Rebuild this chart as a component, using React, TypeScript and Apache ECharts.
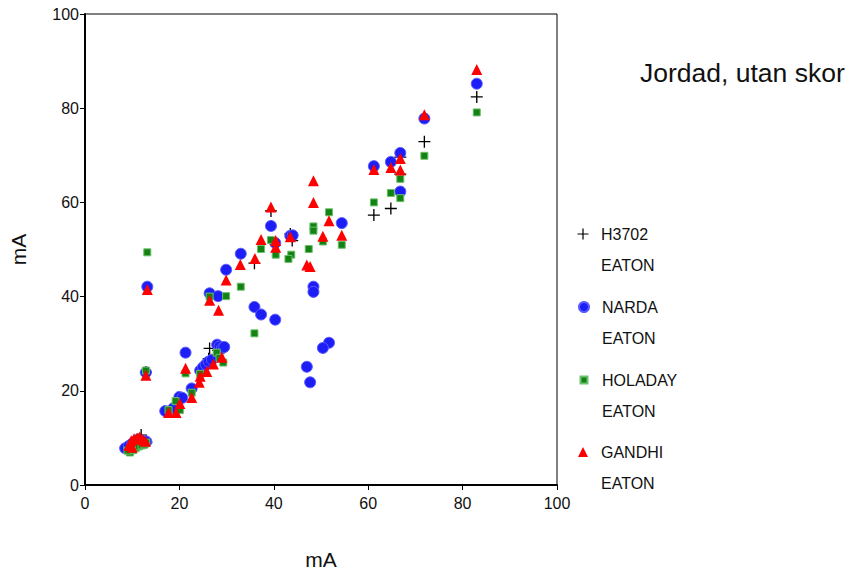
import React, { useEffect, useRef } from "react";
import * as echarts from "echarts";

const seriesNames = ["H3702\nEATON", "NARDA\nEATON", "HOLADAY\nEATON", "GANDHI\nEATON"];
const chartTitle = "Jordad, utan skor";
const axisName = "mA";

const h3702: [number, number][] = [
  [83, 82.4], [71.9, 72.9], [66.8, 69.6], [66.8, 66.0], [64.8, 58.7], [61.2, 57.3],
  [39.4, 58.2], [43.5, 53.3], [43.9, 51.9], [35.9, 47.1], [26.4, 29.0], [26.2, 26.8],
  [28.2, 28.6], [12.9, 24.0],
  [9.0, 8.0], [9.8, 8.6], [10.5, 9.2], [11.2, 9.7], [11.9, 10.6], [12.5, 9.4], [13.0, 9.0],
];

const narda: [number, number][] = [
  [83, 85.2], [71.9, 77.8], [66.8, 70.5], [66.8, 62.3], [64.8, 68.6], [61.2, 67.7],
  [39.4, 55.0], [54.4, 55.6], [40.3, 51.4], [43.5, 52.9], [44.0, 53.0], [33.0, 49.1],
  [48.4, 42.1], [48.4, 41.0], [35.9, 37.8], [37.3, 36.2], [40.3, 35.1], [51.7, 30.2],
  [50.4, 29.1], [47.0, 25.1], [47.7, 21.8], [13.2, 42.1], [29.9, 45.7], [26.4, 40.7],
  [28.2, 40.1], [21.3, 28.1], [28.0, 29.8], [28.5, 29.4], [29.0, 29.0], [29.5, 29.3],
  [12.9, 23.9], [24.4, 24.3], [25.0, 25.0], [25.6, 25.6], [26.2, 26.2], [26.9, 26.6],
  [22.6, 20.5], [20.0, 18.7], [20.6, 18.5], [18.7, 16.3], [17.0, 15.7],
  [8.5, 7.8], [9.3, 8.3], [10.0, 8.8], [10.6, 9.2], [11.2, 9.5], [11.8, 9.0], [12.4, 9.4],
  [13.0, 9.2], [9.8, 7.6],
];

const holaday: [number, number][] = [
  [83, 79.1], [71.9, 69.9], [66.8, 65.0], [66.8, 60.9], [64.8, 62.0], [61.2, 60.0],
  [51.7, 57.9], [48.4, 54.9], [48.4, 54.0], [39.4, 52.0], [37.3, 50.1], [40.4, 48.9],
  [43.7, 48.9], [43.1, 48.0], [50.4, 51.7], [54.4, 51.0], [47.4, 50.1], [33.0, 42.1],
  [35.9, 32.2], [13.2, 49.4], [29.9, 40.1], [26.4, 40.0], [27.9, 28.1], [21.3, 23.7],
  [12.9, 24.3], [29.3, 26.0], [28.5, 27.0], [24.4, 23.6], [22.6, 19.6], [19.2, 17.8],
  [17.7, 15.9], [20.1, 15.9],
  [9.5, 6.9], [10.2, 7.4], [10.8, 7.9], [11.4, 8.2], [12.0, 8.4], [12.6, 8.6], [13.0, 9.0],
  [9.0, 7.3],
];

const gandhi: [number, number][] = [
  [83, 88.2], [71.9, 78.6], [66.8, 69.3], [66.8, 66.9], [64.8, 67.4], [61.2, 67.0],
  [48.4, 64.6], [48.4, 60.0], [39.4, 59.0], [51.7, 56.1], [37.3, 52.1], [40.4, 51.9],
  [40.4, 50.5], [43.5, 52.7], [50.4, 52.8], [54.4, 53.0], [47.0, 46.7], [47.7, 46.4],
  [32.9, 46.8], [36.0, 48.1], [13.2, 41.5], [29.9, 43.5], [26.4, 39.2], [28.3, 37.1],
  [21.3, 24.8], [12.9, 23.3], [27.2, 25.7], [29.0, 27.1], [25.8, 24.1], [24.4, 23.1],
  [24.2, 21.8], [22.6, 18.6], [20.1, 17.3], [17.7, 15.4], [19.3, 15.4],
  [9.3, 8.4], [9.8, 9.4], [10.4, 9.8], [11.0, 9.9], [11.6, 10.2], [12.2, 9.6], [12.8, 9.3],
  [10.0, 8.0],
];

const legendFirstLineY = [234, 307, 380, 452];

const FONT = "'Liberation Sans', Arial, sans-serif";
const PLUS = "path://M6,0H7.5V6H13.5V7.5H7.5V13.5H6V7.5H0V6H6Z";

export default function App() {
  const ref = useRef<HTMLDivElement>(null);
  useEffect(() => {
    if (!ref.current) return;
    const chart = echarts.init(ref.current, undefined, { renderer: "svg" });
    const lineH = 31;
    const iconCx = 583;
    const textX = 601;
    const legendIcons = [PLUS, "circle", "rect", "triangle"];
    const legendSizes = [11, 10, 7, 10];
    const legends = seriesNames.map((n, i) => {
      const w = legendSizes[i];
      return {
        data: [{ name: n, icon: legendIcons[i] }],
        orient: "vertical",
        left: iconCx - w / 2,
        top: legendFirstLineY[i] - 1.5 * lineH,
        padding: 0,
        itemWidth: w,
        itemHeight: w,
        selectedMode: false,
        formatter: (name: string) => "\n" + name,
        textStyle: {
          fontFamily: FONT,
          fontSize: 16,
          color: "#111",
          lineHeight: lineH,
          padding: [0, 0, 0, textX - (iconCx + w / 2 + 5)],
        },
      };
    });
    const axisCommon = {
      type: "value",
      min: 0,
      max: 100,
      interval: 20,
      name: axisName,
      nameLocation: "middle",
      nameTextStyle: { fontFamily: FONT, fontSize: 21, color: "#111" },
      axisLine: { show: true, onZero: false, lineStyle: { color: "#000", width: 2 } },
      axisTick: { show: true, inside: false, length: 5, lineStyle: { color: "#000", width: 1 } },
      splitLine: { show: false },
    };
    chart.setOption({
      animation: false,
      backgroundColor: "#fff",
      title: {
        text: chartTitle,
        left: 640,
        top: 59,
        padding: 0,
        textStyle: { fontFamily: FONT, fontSize: 26.5, fontWeight: "normal", color: "#111" },
      },
      legend: legends,
      grid: {
        left: 85,
        top: 14,
        right: 290,
        bottom: 84,
        show: true,
        borderColor: "#000",
        borderWidth: 1,
        backgroundColor: "transparent",
      },
      xAxis: {
        ...axisCommon,
        nameGap: 64,
        axisLabel: { fontFamily: FONT, fontSize: 16, color: "#111", margin: 10 },
      },
      yAxis: {
        ...axisCommon,
        nameGap: 56,
        axisLabel: { fontFamily: FONT, fontSize: 16, color: "#111", margin: 6 },
      },
      series: [
        {
          name: seriesNames[0],
          type: "scatter",
          data: h3702,
          symbol: PLUS,
          symbolSize: 12,
          itemStyle: { color: "#000", opacity: 1 },
        },
        {
          name: seriesNames[1],
          type: "scatter",
          data: narda,
          symbol: "circle",
          symbolSize: 11,
          itemStyle: { color: "#1d1df5", borderColor: "#5a5aff", borderWidth: 1, opacity: 1 },
        },
        {
          name: seriesNames[2],
          type: "scatter",
          data: holaday,
          symbol: "rect",
          symbolSize: 7,
          itemStyle: { color: "#138213", borderColor: "#6cc06c", borderWidth: 1, opacity: 1 },
        },
        {
          name: seriesNames[3],
          type: "scatter",
          data: gandhi,
          symbol: "triangle",
          symbolSize: 11,
          itemStyle: { color: "#ff0000", opacity: 1 },
        },
      ],
    });
    return () => chart.dispose();
  }, []);
  return (
    <div
      ref={ref}
      style={{ position: "absolute", left: 0, top: 0, width: 847, height: 575, background: "#fff" }}
    />
  );
}
